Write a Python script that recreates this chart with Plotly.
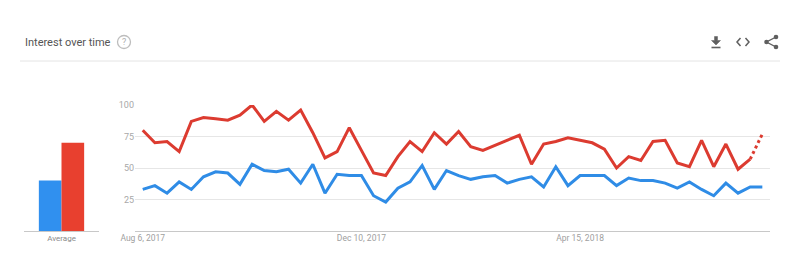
import plotly.graph_objects as go
import pandas as pd

W, H = 800, 273

# ---- data ----
dates = pd.date_range("2017-08-06", periods=52, freq="7D")
blue_vals = [33, 36, 30, 39, 33, 43, 47, 46, 37, 53,
             48, 47, 49, 38, 53, 30, 45, 44, 44, 28,
             23, 34, 39, 52, 33, 48, 44, 41, 43, 44,
             38, 41, 43, 35, 51, 36, 44, 44, 44, 36,
             42, 40, 40, 38, 34, 39, 33, 28, 38, 30, 35, 35]
red_vals = [80, 70, 71, 63, 87, 90, 89, 88, 92, 100,
            87, 95, 88, 96, 78, 58, 63, 82, 64, 46,
            44, 59, 71, 63, 78, 69, 79, 67, 64, 68,
            72, 76, 53, 69, 71, 74, 72, 70, 65, 50,
            59, 56, 71, 72, 54, 51, 72, 51, 69, 49, 57, 77]
avg_labels = ["Average"]
blue_avg = [40]
red_avg = [70]
y_ticks = [25, 50, 75, 100]
x_tick_dates = ["2017-08-06", "2017-12-10", "2018-04-15"]
x_tick_text = ["Aug 6, 2017", "Dec 10, 2017", "Apr 15, 2018"]

BLUE = "#2f8ce6"
RED = "#dc3b30"
BLUE_BAR = "#3090ef"
RED_BAR = "#e8402f"


def px(x):
    return x / W


def py(y):
    return 1 - y / H


fig = go.Figure()

# main lines
fig.add_trace(go.Scatter(x=dates, y=blue_vals, mode="lines",
                         line=dict(color=BLUE, width=3), cliponaxis=False,
                         xaxis="x", yaxis="y", hoverinfo="skip"))
fig.add_trace(go.Scatter(x=dates[:-1], y=red_vals[:-1], mode="lines",
                         line=dict(color=RED, width=3), cliponaxis=False,
                         xaxis="x", yaxis="y", hoverinfo="skip"))
fig.add_trace(go.Scatter(x=dates[-2:], y=red_vals[-2:], mode="lines",
                         line=dict(color=RED, width=3, dash="dot"), cliponaxis=False,
                         xaxis="x", yaxis="y", hoverinfo="skip"))

# averages
fig.add_trace(go.Bar(x=avg_labels, y=blue_avg, marker=dict(color=BLUE_BAR, line=dict(width=0)),
                     xaxis="x2", yaxis="y2", hoverinfo="skip"))
fig.add_trace(go.Bar(x=avg_labels, y=red_avg, marker=dict(color=RED_BAR, line=dict(width=0)),
                     xaxis="x2", yaxis="y2", hoverinfo="skip"))

ydom = [py(231), py(105)]

fig.update_layout(
    width=W, height=H,
    margin=dict(l=0, r=0, t=0, b=0, pad=0, autoexpand=False),
    paper_bgcolor="white", plot_bgcolor="rgba(0,0,0,0)",
    showlegend=False,
    barmode="group", bargap=0.396, bargroupgap=0,
    xaxis=dict(domain=[px(135), px(770)], type="date",
               range=["2017-08-01 13:00", "2018-08-02 10:00"],
               tickvals=x_tick_dates, ticktext=x_tick_text,
               showgrid=False, zeroline=False, showline=True,
               linecolor="#c8c8c8", linewidth=1, ticks="",
               tickfont=dict(family="Roboto", size=8.5, color="#a0a0a0"),
               ticklabelstandoff=-1,
               automargin=False, anchor="y"),
    yaxis=dict(domain=ydom, range=[0, 100], tickvals=y_ticks,
               showgrid=True, gridcolor="#e6e6e6", gridwidth=1,
               zeroline=False, showline=False, ticks="",
               tickfont=dict(family="Roboto", size=9, color="#a8a8a8"),
               automargin=False, anchor="x"),
    xaxis2=dict(domain=[px(24), px(99)], showgrid=False, zeroline=False,
                showline=True, linecolor="#c8c8c8", linewidth=1, ticks="",
                tickfont=dict(family="Roboto", size=8, color="#8a8a8a"),
                ticklabelstandoff=-1,
                automargin=False, anchor="y2"),
    yaxis2=dict(domain=ydom, range=[0, 100], showgrid=False, zeroline=False,
                showline=False, showticklabels=False, automargin=False, anchor="x2"),
)

shapes = []
annotations = []

# title
annotations.append(dict(x=px(23), y=py(42), xref="paper", yref="paper",
                        text="Interest over time", showarrow=False,
                        xanchor="left", yanchor="middle",
                        font=dict(family="Roboto", size=11, color="#555555")))
# help icon
shapes.append(dict(type="circle", xref="paper", yref="paper",
                   x0=px(117.5), x1=px(130.5), y0=py(35.5), y1=py(48.5),
                   line=dict(color="#bdbdbd", width=1.3)))
annotations.append(dict(x=px(124), y=py(42), xref="paper", yref="paper",
                        text="?", showarrow=False, xanchor="center", yanchor="middle",
                        font=dict(family="Roboto", size=9, color="#b0b0b0")))
# separator
shapes.append(dict(type="line", xref="paper", yref="paper",
                   x0=px(20), x1=px(780), y0=py(61), y1=py(61),
                   line=dict(color="#e4e4e4", width=1)))


def path(points, close=False):
    s = "M " + " L ".join(f"{px(x)},{py(y)}" for x, y in points)
    return s + (" Z" if close else "")


ICON = "#5f5f5f"
# download icon
shapes.append(dict(type="path", xref="paper", yref="paper",
                   path=path([(714.5, 36.5), (717.5, 36.5), (717.5, 40.5), (720.5, 40.5),
                              (716, 45), (711.5, 40.5), (714.5, 40.5)], close=True),
                   fillcolor=ICON, line=dict(color=ICON, width=0.5)))
shapes.append(dict(type="line", xref="paper", yref="paper",
                   x0=px(711.5), x1=px(720.5), y0=py(47.5), y1=py(47.5),
                   line=dict(color=ICON, width=1.6)))
# code icon
shapes.append(dict(type="path", xref="paper", yref="paper",
                   path=path([(740.5, 38), (737, 42), (740.5, 46)]),
                   line=dict(color=ICON, width=1.5)))
shapes.append(dict(type="path", xref="paper", yref="paper",
                   path=path([(745.5, 38), (749, 42), (745.5, 46)]),
                   line=dict(color=ICON, width=1.5)))
# share icon
shapes.append(dict(type="path", xref="paper", yref="paper",
                   path=path([(776, 37), (766.5, 42), (776, 47)]),
                   line=dict(color=ICON, width=1.4)))
for cx, cy in [(776, 37), (766.5, 42), (776, 47)]:
    shapes.append(dict(type="circle", xref="paper", yref="paper",
                       x0=px(cx - 2.3), x1=px(cx + 2.3), y0=py(cy + 2.3), y1=py(cy - 2.3),
                       fillcolor=ICON, line=dict(width=0)))

fig.update_layout(shapes=shapes, annotations=annotations)

fig.write_html("out.html")
